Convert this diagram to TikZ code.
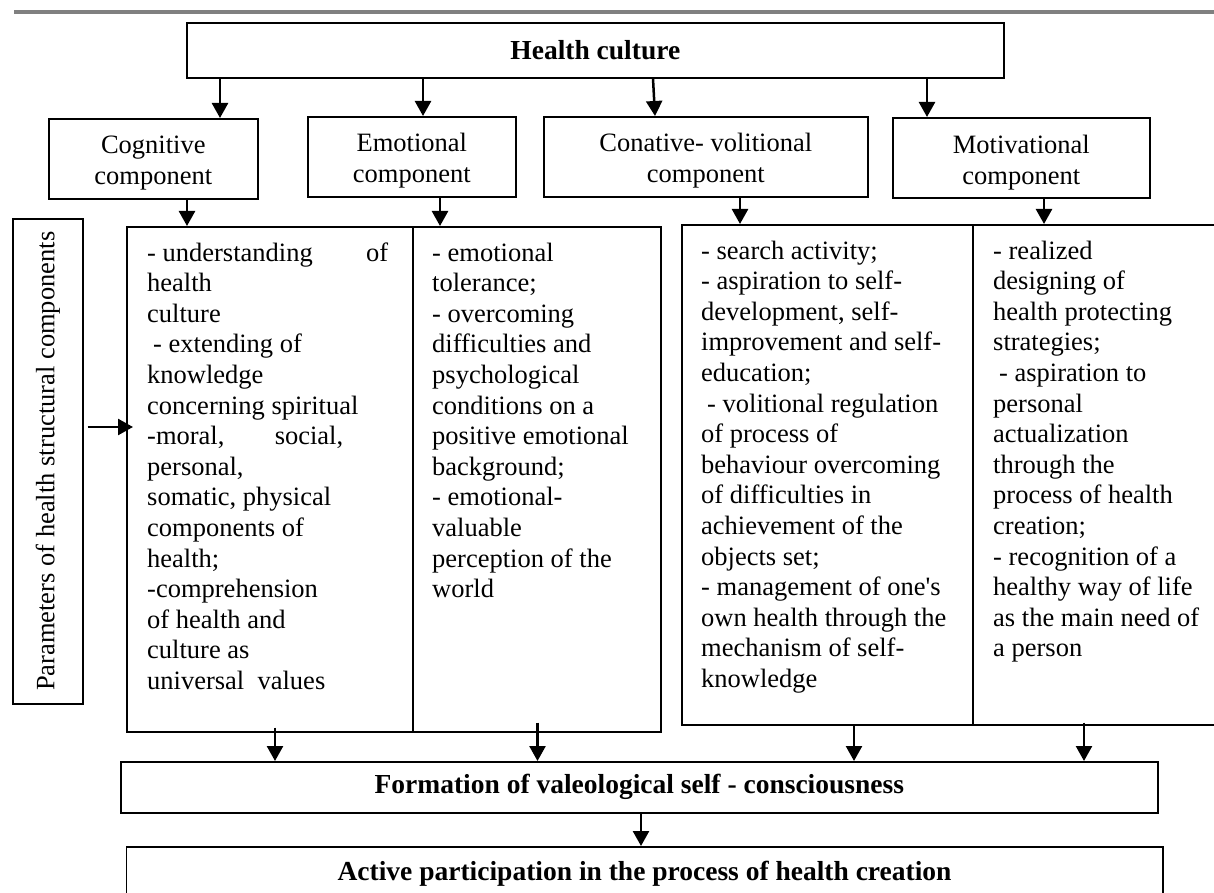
\documentclass[tikz,border=0pt]{standalone}
\usepackage{fontspec}
\setmainfont{Liberation Serif}
\usetikzlibrary{arrows.meta}
\begin{document}
\begin{tikzpicture}[x=1pt,y=-1pt,
  boxstyle/.style={draw, line width=1.6pt, inner sep=0pt, anchor=north west, align=center,
    font=\fontsize{26.5}{31}\selectfont},
  hdtext/.style={inner sep=0pt, align=center, font=\fontsize{26.5}{31}\selectfont},
  titlestyle/.style={boxstyle, font=\fontsize{27.5}{32}\selectfont\bfseries},
  colstyle/.style={inner sep=0pt, anchor=base west, font=\fontsize{26.5}{30.6}\selectfont},
  arr/.style={line width=2.5pt, -{Triangle[width=16pt,length=15pt]}}]
\useasboundingbox (0,0) rectangle (1214,893);
% top rule
\fill[black!50] (14,10) rectangle (1214,14);

% boxes
\node[titlestyle, minimum width=817pt, minimum height=55pt] (hc) at (186,22) {Health culture};
\node[boxstyle, minimum width=209pt, minimum height=80pt] (cog) at (48,118) {};
\node[boxstyle, minimum width=208pt, minimum height=80pt] (emo) at (307,116) {};
\node[boxstyle, minimum width=324pt, minimum height=80pt] (con) at (543,116) {};
\node[boxstyle, minimum width=257pt, minimum height=80pt] (mot) at (892,117) {};
\node[hdtext] (cogt) at ([yshift=-4pt]cog.center) {Cognitive\\component};
\node[hdtext] (emot) at ([yshift=-4pt]emo.center) {Emotional\\component};
\node[hdtext] (cont) at ([yshift=-4pt]con.center) {Conative- volitional\\component};
\node[hdtext] (mott) at ([yshift=-5pt]mot.center) {Motivational\\component};

\node[boxstyle, minimum width=70pt, minimum height=485pt] (par) at (12,218) {};
\node[rotate=90, font=\fontsize{26.5}{31}\selectfont, inner sep=0pt] (partext) at (par.center) {Parameters of health structural components};

\node[boxstyle, minimum width=286pt, minimum height=505pt] (b1a) at (126,226) {};
\node[boxstyle, minimum width=248pt, minimum height=505pt] (b1b) at (412,226) {};
\node[boxstyle, minimum width=291pt, minimum height=500pt] (b2a) at (681,224) {};
\node[boxstyle, minimum width=262pt, minimum height=500pt] (b2b) at (972,224) {};

\node[titlestyle, minimum width=1037pt, minimum height=51pt] (form) at (120,761) {Formation of valeological self - consciousness};
\node[titlestyle, minimum width=1036.5pt, minimum height=54pt] (act) at (125.5,846) {Active participation in the process of health creation};

% column texts
\node[colstyle] (t1a) at (147,261) {\parbox[t]{300pt}{\raggedright
\leavevmode\hbox to 241pt{- understanding\hfill of}\\
health\\
culture\\
\hspace*{6pt}- extending of\\
knowledge\\
concerning spiritual\\
\leavevmode\hbox to 196pt{-moral,\hfill social,}\\
personal,\\
somatic, physical\\
components of\\
health;\\
-comprehension\\
of health and\\
culture as\\
universal\ \ values}};

\node[colstyle] (t1b) at (432,261) {\parbox[t]{300pt}{\raggedright
- emotional\\
tolerance;\\
- overcoming\\
difficulties and\\
psychological\\
conditions on a\\
positive emotional\\
background;\\
- emotional-\\
valuable\\
perception of the\\
world}};

\node[colstyle] (t2a) at (701,259) {\parbox[t]{320pt}{\raggedright
- search activity;\\
- aspiration to self-\\
development, self-\\
improvement and self-\\
education;\\
\hspace*{6pt}- volitional regulation\\
of process of\\
behaviour overcoming\\
of difficulties in\\
achievement of the\\
objects set;\\
- management of one\textquotesingle s\\
own health through the\\
mechanism of self-\\
knowledge}};

\node[colstyle] (t2b) at (993,259) {\parbox[t]{300pt}{\raggedright
- realized\\
designing of\\
health protecting\\
strategies;\\
\hspace*{6pt}- aspiration to\\
personal\\
actualization\\
through the\\
process of health\\
creation;\\
- recognition of a\\
healthy way of life\\
as the main need of\\
a person}};

% arrow columns
\coordinate (x220) at (220,0);
\coordinate (x423) at (423,0);
\coordinate (x654) at (654,0);
\coordinate (x927) at (927,0);
\coordinate (x187) at (187,0);
\coordinate (x440) at (440,0);
\coordinate (x740) at (740,0);
\coordinate (x1044) at (1044,0);
\coordinate (x275) at (275,0);
\coordinate (x537) at (537.5,0);
\coordinate (x854) at (854,0);
\coordinate (x1084) at (1084,0);
\coordinate (x641) at (641,0);
\coordinate (y427) at (0,427);

\draw[arr] (hc.south -| x220) -- (cog.north -| x220);
\draw[arr] (hc.south -| x423) -- (emo.north -| x423);
\draw[arr] ([xshift=-1pt]hc.south -| x654) -- ([xshift=1pt]con.north -| x654);
\draw[arr] (hc.south -| x927) -- (mot.north -| x927);

\draw[arr] (cog.south -| x187) -- (b1a.north -| x187);
\draw[arr] (emo.south -| x440) -- (b1b.north -| x440);
\draw[arr] (con.south -| x740) -- (b2a.north -| x740);
\draw[arr] (mot.south -| x1044) -- (b2b.north -| x1044);

\draw[arr, shorten >=-7pt] ([xshift=4pt]par.east |- y427) -- (b1a.west |- y427);

\draw[arr] ([yshift=5pt]b1a.south -| x275) -- (form.north -| x275);
\draw[arr] ([yshift=10pt]b1b.south -| x537) -- (form.north -| x537);
\draw[arr] (b2a.south -| x854) -- (form.north -| x854);
\draw[arr] ([yshift=3pt]b2b.south -| x1084) -- (form.north -| x1084);

\draw[arr] (form.south -| x641) -- (act.north -| x641);
\end{tikzpicture}
\end{document}
